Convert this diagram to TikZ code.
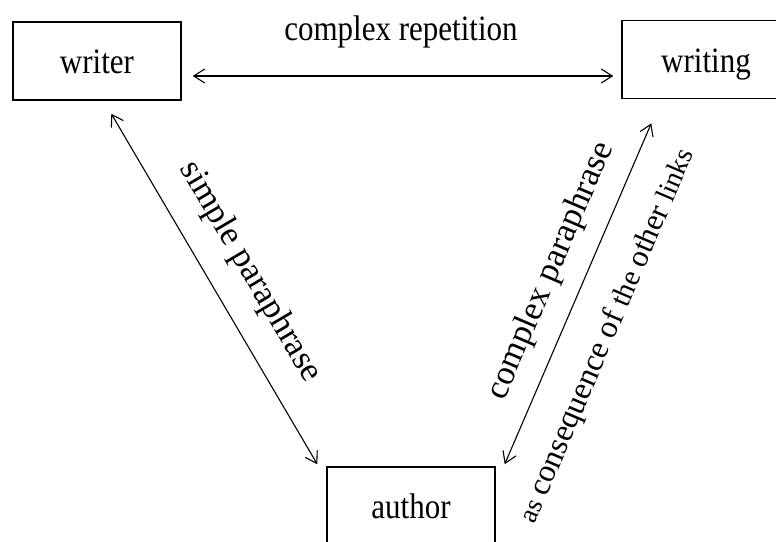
\documentclass[tikz,border=0pt]{standalone}
\usepackage{fontspec}
\setmainfont{Liberation Serif}
\usetikzlibrary{arrows.meta,calc}
\begin{document}
\begin{tikzpicture}[x=1pt,y=-1pt,
  term/.style={draw, line width=1.4pt, yscale=1.15, minimum width=168pt,
    minimum height=67.8pt, inner sep=0pt, font=\fontsize{31}{36}\selectfont,
    text height=22pt, text depth=0pt},
  lbl/.style={yscale=1.15, inner sep=0pt, font=\fontsize{31}{36}\selectfont},
  slant/.style={inner sep=0pt, font=\fontsize{34.5}{40}\selectfont},
  link/.style={line width=1.1pt,
    {Straight Barb[length=11pt,width=14pt]}-{Straight Barb[length=11pt,width=14pt]}}]
\useasboundingbox (0,0) rectangle (776,541);
\clip (0,0) rectangle (776,541);

% the three terms
\node[term] (writer)  at (97,61)    {writer};
\node[term] (writing) at (706,59.5) {writing};
\node[term] (author)  at (411,506)  {author};

% end points of the links, kept a little off the boxes
\coordinate (wrE) at ($(writer.east)+(11,15)$);
\coordinate (wgW) at ($(writing.west)+(-8,16.5)$);
\coordinate (wrS) at ($(writer.south west)+(99,13)$);
\coordinate (auL) at ($(author.north west)+(-9,-2)$);
\coordinate (wgS) at ($(writing.south west)+(30,24)$);
\coordinate (auR) at ($(author.north east)+(9,-2)$);

% links
\draw[link] (wrE) -- (wgW);
\draw[link] (wrS) -- (auL);
\draw[link] (wgS) -- (auR);

% link labels
\node[lbl] (rep) at (401,32) {complex repetition};
\node[slant, rotate=-59.5] (simple) at (250,272) {simple paraphrase};
\node[slant, rotate=66.8] (cplx) at (551,271) {complex paraphrase};
\node[inner sep=0pt, rotate=66.8] (conseq) at (607,336)
  {\fontsize{27}{30}\selectfont as \fontsize{32}{36}\selectfont consequence of
   \fontsize{29}{32}\selectfont the \fontsize{31}{36}\selectfont other
   \fontsize{28}{32}\selectfont links};
\end{tikzpicture}
\end{document}
